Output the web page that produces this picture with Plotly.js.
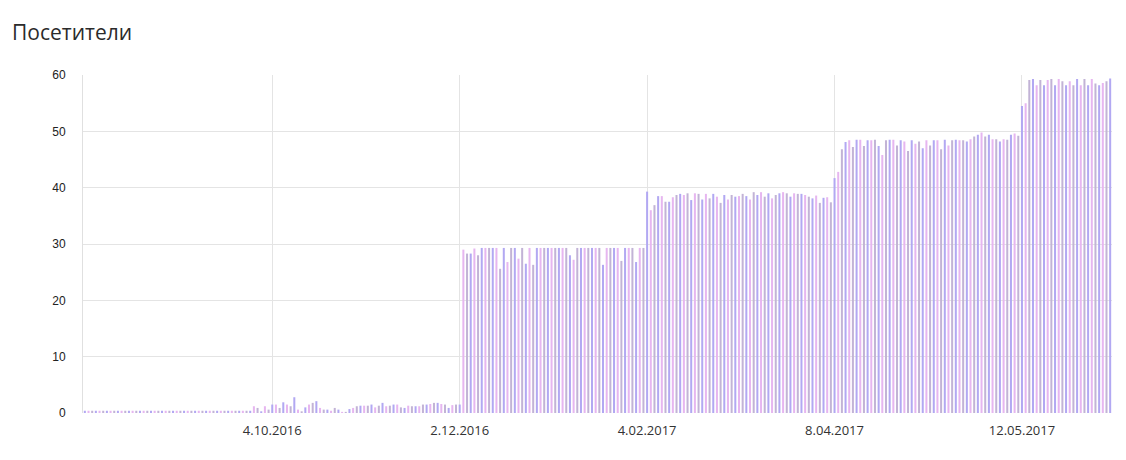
<!DOCTYPE html>
<html>
<head>
<meta charset="utf-8">
<script src="https://cdn.plot.ly/plotly-3.0.1.min.js"></script>
<style>
  html, body { margin: 0; padding: 0; background: #fff; }
  #chart { width: 1126px; height: 460px; }
</style>
</head>
<body>
<div id="chart"></div>
<script>
// Daily visitors (segments between the date ticks)
const visitsSegA = [0.4,0.4,0.4,0.4,0.4,0.4,0.4,0.4,0.4,0.4,0.4,0.4,0.4,0.4,0.4,0.4,0.4,0.4,0.4,0.4,
  0.4,0.4,0.4,0.4,0.4,0.4,0.4,0.4,0.4,0.4,0.4,0.4,0.4,0.4,0.4,0.4,0.4,0.4,0.4,0.4,
  0.4,0.4,0.4,0.4,0.4,0.4];
const visitsSegB = [1.2,0.9,0.3,1.2,0.6,1.5,1.5,0.9,1.9,1.5,1.2,2.8,0.6,0.3,1.0,1.5,1.8,2.1,0.9,0.6,
  0.6,0.4,0.9,0.6,0.2,0.2,0.7,0.9,1.2,1.3,1.3,1.3,1.5,1.0,1.3,1.8,1.2,1.3,1.5,1.5,
  1.0,0.9,1.3,1.2,1.2,1.2,1.5,1.5,1.6,1.8,1.8,1.6,1.5,0.9,1.4,1.5,1.5];
const visitsSegC = [29.0,28.3,28.3,29.2,28.0,29.3,29.3,29.3,29.3,29.3,25.6,29.3,26.8,29.3,29.3,27.4,29.3,26.5,29.3,26.3,
  29.3,29.3,29.3,29.3,29.3,29.3,29.3,29.3,29.3,28.0,27.2,29.3,29.3,29.3,29.3,29.3,29.3,29.3,26.3,29.3,
  29.3,29.3,29.3,27.0,29.3,29.3,29.3,26.8,29.3,29.3];
const visitsSegD = [39.3,36.0,36.9,38.5,38.5,37.5,37.5,38.3,38.7,38.9,38.7,39.0,37.8,39.0,38.9,37.9,38.9,38.1,38.9,38.4,
  37.3,38.7,37.9,38.7,38.4,38.5,38.9,38.5,37.9,39.2,38.7,39.2,38.4,39.0,38.1,38.7,39.0,39.2,39.0,38.4,
  39.0,38.9,38.9,38.7,38.4,38.1,38.6,37.3,38.2,38.3,37.4];
const visitsSegE = [41.7,42.8,46.8,48.1,48.4,47.2,48.5,48.5,47.4,48.4,48.4,48.5,47.4,45.8,48.4,48.5,48.5,47.5,48.4,48.2,
  46.5,48.4,47.8,48.2,47.0,48.4,47.5,48.4,48.4,46.8,48.5,47.5,48.4,48.5,48.4,48.4,48.2,48.6,49.1,49.4,
  49.8,49.1,49.4,48.6,48.6,48.2,48.6,48.5,49.4,49.6,49.2];
const visitsSegF = [54.5,55.0,59.1,59.3,58.2,59.1,58.2,59.1,59.3,58.2,59.3,58.9,58.2,58.9,58.2,59.3,58.2,59.3,58.2,59.3,
  58.5,58.2,58.6,58.9,59.4];

const tickIndex = [51, 102, 153, 204, 255];
const tickLabels = ['4.10.2016', '2.12.2016', '4.02.2017', '8.04.2017', '12.05.2017'];
const yTicks = [0, 10, 20, 30, 40, 50, 60];

const visits = [].concat(visitsSegA, visitsSegB, visitsSegC, visitsSegD, visitsSegE, visitsSegF);
const dayIndex = visits.map((_, i) => i);

const palette = ['#b2a8f2', '#e6b6f0', '#c2b3d6'];
const colors = dayIndex.map(i => palette[i % palette.length]);

const trace = {
  type: 'bar',
  x: dayIndex,
  y: visits,
  marker: { color: colors, line: { width: 0 } },
  hoverinfo: 'y'
};

const layout = {
  width: 1126,
  height: 460,
  margin: { l: 83, r: 14, t: 75, b: 47 },
  paper_bgcolor: '#ffffff',
  plot_bgcolor: '#ffffff',
  bargap: 0.45,
  showlegend: false,
  title: {
    text: 'Посетители',
    font: { family: 'Open Sans, sans-serif', size: 21, color: '#2b2b2b' },
    x: 12 / 1126, xref: 'container', xanchor: 'left',
    y: 1 - 33 / 460, yref: 'container', yanchor: 'middle'
  },
  xaxis: {
    range: [-0.5, visits.length - 0.5],
    tickmode: 'array',
    tickvals: tickIndex,
    ticktext: tickLabels,
    showgrid: true,
    gridcolor: '#e4e4e4',
    gridwidth: 1,
    zeroline: false,
    showline: false,
    ticks: '',
    ticklabelstandoff: 8,
    tickfont: { family: 'Open Sans, sans-serif', size: 13, color: '#333333' }
  },
  yaxis: {
    range: [0, 60],
    tickmode: 'array',
    tickvals: yTicks,
    showgrid: true,
    gridcolor: '#e4e4e4',
    gridwidth: 1,
    zeroline: false,
    showline: true,
    linecolor: '#e0e0e0',
    linewidth: 1,
    ticks: '',
    ticklabelstandoff: 14,
    tickfont: { family: 'Liberation Sans, Arial, sans-serif', size: 12, color: '#222222' }
  }
};

Plotly.newPlot('chart', [trace], layout, { displayModeBar: false, staticPlot: true });
</script>
</body>
</html>
